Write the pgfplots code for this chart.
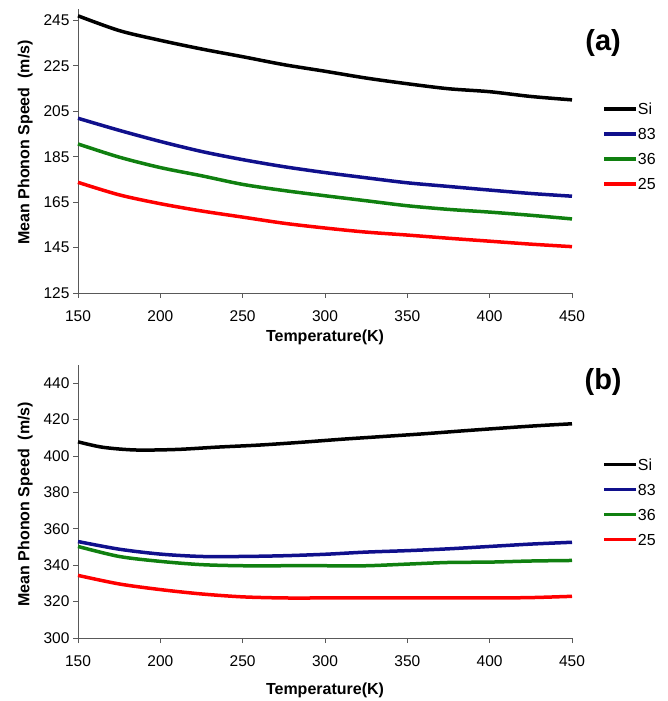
\documentclass[border=0pt]{standalone}
\usepackage{fontspec}
\setmainfont{Liberation Sans}
\usepackage{pgfplots}
\pgfplotsset{compat=1.18}

\definecolor{siblack}{RGB}{0,0,0}
\definecolor{navyline}{RGB}{16,16,140}
\definecolor{greenline}{RGB}{16,128,16}
\definecolor{redline}{RGB}{255,0,0}

\pgfplotsset{phonon/.style={
    scale only axis, width=494pt,
    xmin=150, xmax=450, xtick={150,200,...,450},
    axis x line*=bottom, axis y line*=left,
    axis line style={-, draw=black!65, line width=0.8pt},
    tick style={draw=black!65, line width=0.8pt},
    tick align=outside, major tick length=5pt,
    minor tick num=0,
    /pgf/number format/assume math mode=true,
    ticklabel style={font=\fontsize{15.5}{17}\selectfont},
    xticklabel style={yshift=-9pt},
    label style={font=\bfseries\fontsize{16}{18}\selectfont},
    ylabel style={at={(axis description cs:-0.107,0.5)}, anchor=center},
    every axis plot/.append style={line width=3.5pt, no marks, smooth, tension=0.5},
    legend style={draw=none, fill=none, anchor=north west,
        font=\fontsize{16}{18}\selectfont, row sep=5.5pt,
        nodes={inner sep=0pt, text height=11.5pt, text depth=0pt}},
    legend cell align=left,
    legend image code/.code={\draw[#1, line width=3.5pt] (0pt,0pt) -- (32pt,0pt);
        \path (0pt,12pt);},
    clip=false,
}}

\begin{document}
\begin{tikzpicture}
\useasboundingbox (0,0) rectangle (668pt,701pt);

% (a)
\begin{axis}[phonon,
    at={(78pt,408pt)}, anchor=south west, height=284pt,
    ymin=125, ymax=250, ytick={125,145,...,245},
    xlabel={Temperature(K)}, ylabel={Mean Phonon Speed\ \ (m/s)},
    xlabel style={at={(axis description cs:0.5,0)}, anchor=center, yshift=-44pt},
    ylabel style={at={(axis description cs:-0.107,0.53)}},
    legend style={at={(rel axis cs:1.055,0.704)}}]
\addplot[siblack] coordinates {(150,247) (175,240.5) (200,236.2) (225,232.4) (250,229) (275,225.5) (300,222.6) (325,219.6) (350,217.1) (375,214.9) (400,213.6) (425,211.5) (450,210)};
\addplot[navyline] coordinates {(150,201.9) (175,196.6) (200,191.7) (225,187.3) (250,183.7) (275,180.6) (300,178) (325,175.7) (350,173.5) (375,171.9) (400,170.3) (425,168.8) (450,167.6)};
\addplot[greenline] coordinates {(150,190.6) (175,184.8) (200,180.2) (225,176.6) (250,172.8) (275,170.1) (300,167.8) (325,165.6) (350,163.4) (375,161.8) (400,160.6) (425,159.2) (450,157.6)};
\addplot[redline] coordinates {(150,173.7) (175,168.2) (200,164.3) (225,161.1) (250,158.4) (275,155.7) (300,153.6) (325,151.8) (350,150.5) (375,149.1) (400,147.8) (425,146.5) (450,145.4)};
\legend{Si,83,36,25}
\node[font=\bfseries\fontsize{29}{33}\selectfont] at (rel axis cs:1.063,0.88) {(a)};
\end{axis}

% (b)
\begin{axis}[phonon,
    at={(78pt,63pt)}, anchor=south west, height=273pt,
    ymin=300, ymax=450, ytick={300,320,...,440},
    xlabel={Temperature(K)}, ylabel={Mean Phonon Speed\ \ (m/s)},
    xlabel style={at={(axis description cs:0.5,0)}, anchor=center, yshift=-52pt},
    ylabel style={at={(axis description cs:-0.107,0.49)}},
    legend style={at={(rel axis cs:1.055,0.694)}}]
\addplot[siblack] coordinates {(150,407.8) (165,404.8) (185,403.3) (210,403.6) (235,404.9) (260,406) (285,407.5) (310,409.2) (335,410.7) (360,412.2) (385,413.9) (410,415.5) (430,416.7) (450,417.7)};
\addplot[navyline] coordinates {(150,353) (175,348.8) (200,346.1) (225,344.8) (250,344.8) (275,345.2) (300,346) (325,347.2) (350,348) (375,349) (400,350.3) (425,351.6) (450,352.6)};
\addplot[greenline] coordinates {(150,350.3) (175,344.8) (200,342.1) (225,340.3) (250,339.7) (275,339.7) (300,339.7) (325,339.7) (350,340.6) (375,341.5) (400,341.7) (425,342.3) (450,342.6)};
\addplot[redline] coordinates {(150,334.4) (175,329.7) (200,326.6) (225,324.2) (250,322.6) (275,322) (300,322) (325,322) (350,322) (375,322) (400,322) (425,322.2) (450,322.9)};
\legend{Si,83,36,25}
\node[font=\bfseries\fontsize{29}{33}\selectfont] at (rel axis cs:1.063,0.938) {(b)};
\end{axis}
\end{tikzpicture}
\end{document}
